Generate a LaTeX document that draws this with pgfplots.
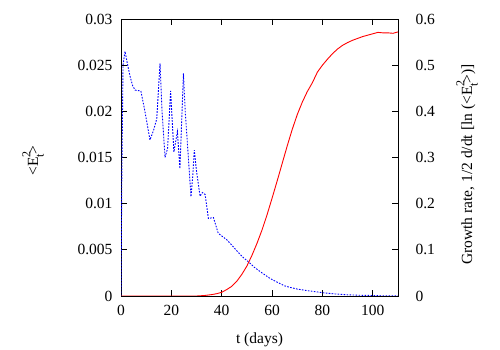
\documentclass[border=0pt]{standalone}
\usepackage{fontspec}
\setmainfont{Liberation Serif}
\usepackage{pgfplots}
\pgfplotsset{compat=1.18}
\newcommand{\Et}{<E\rlap{\raisebox{0.5em}{\fontsize{12bp}{12bp}\selectfont 2}}\raisebox{-0.35em}{\fontsize{12bp}{12bp}\selectfont t}>}
\begin{document}
\begin{tikzpicture}
\path[use as bounding box] (0,0) rectangle (500bp,350bp);
\pgfplotsset{every axis/.append style={scale only axis,width=277bp,height=277bp,at={(121bp,54bp)},anchor=south west,
  xmin=0,xmax=110,font=\fontsize{15.5bp}{18bp}\selectfont,/pgf/number format/assume math mode=true,
  tick style={black,line width=0.8bp},major tick length=6bp,axis line style={line width=0.8bp},tick align=inside}}
\begin{axis}[ymin=0,ymax=0.03,ytick={0,0.005,...,0.0301},xtick={0,20,...,100},
  scaled y ticks=false,yticklabel style={/pgf/number format/fixed,/pgf/number format/precision=3,xshift=-5bp},
  xticklabel style={yshift=-6bp},ytick pos=left,xtick pos=both,
  xlabel={t (days)},xlabel style={at={([yshift=-44bp]axis description cs:0.5,0)},anchor=center},
  ylabel={\Et},ylabel style={at={([xshift=-88bp,yshift=-3bp]axis description cs:0,0.5)},anchor=center}]
\addplot[blue,line width=0.9bp,dash pattern=on 1.6bp off 1.4bp] coordinates {
(0,0) (0.3,0.012) (0.8,0.025) (1.6,0.0265) (2.5,0.0252) (3.6,0.0238) (4.6,0.0228) (5.6,0.0223) (7.9,0.0222)
(9.5,0.0200) (11.5,0.0169) (13,0.0180) (14.2,0.0192) (15.5,0.0252) (16.3,0.020) (17.5,0.0150) (18.5,0.0160)
(19.7,0.0222) (21,0.0156) (22.4,0.0178) (23.4,0.0138) (24.8,0.0241) (25.5,0.020) (27.8,0.01075) (28.5,0.013)
(29.1,0.0158) (30,0.0135) (31.4,0.0108) (32.3,0.0112) (33.4,0.011) (34.7,0.0084) (36.7,0.0085) (38.6,0.0068)
(40,0.0065) (42,0.0061) (44,0.0055) (46,0.0049) (48,0.0043) (50.6,0.0037) (53,0.0031) (56,0.0025) (59.2,0.0019)
(62,0.0015) (65,0.0011) (67,0.00094) (70,0.00075) (74,0.00058) (77.7,0.00045) (80,0.00036) (85,0.00022)
(90,0.00013) (95,0.00008) (100,0.00005) (105,0.00002) (110,0.00001)};
\end{axis}
\begin{axis}[ymin=0,ymax=0.6,ytick={0,0.1,...,0.61},axis x line=none,axis y line*=right,
  yticklabel style={/pgf/number format/fixed,/pgf/number format/precision=1,xshift=14bp,anchor=west},
  ylabel={Growth rate, 1/2 d/dt [ln (\Et)]},ylabel style={at={([xshift=69bp,yshift=-7bp]axis description cs:1,0.5)},anchor=center,rotate=0}]
\addplot[red,line width=0.9bp] coordinates {
(0,0) (30,0) (33,0.001) (36,0.003) (38,0.005) (40,0.008) (42,0.014) (44,0.021) (46,0.032) (48,0.047) (50,0.065)
(52,0.088) (54,0.114) (56,0.143) (58,0.176) (60,0.212) (62,0.249) (64,0.287) (66,0.325) (68,0.361) (70,0.393)
(72,0.42) (74,0.443) (76,0.462) (78,0.485) (80,0.50) (82,0.513) (84,0.525) (86,0.535) (88,0.543) (90,0.549)
(92,0.554) (94,0.558) (96,0.562) (98,0.565) (100,0.568) (102,0.571) (104,0.570) (106,0.570) (108,0.569) (110,0.572)};
\end{axis}
\end{tikzpicture}
\end{document}
